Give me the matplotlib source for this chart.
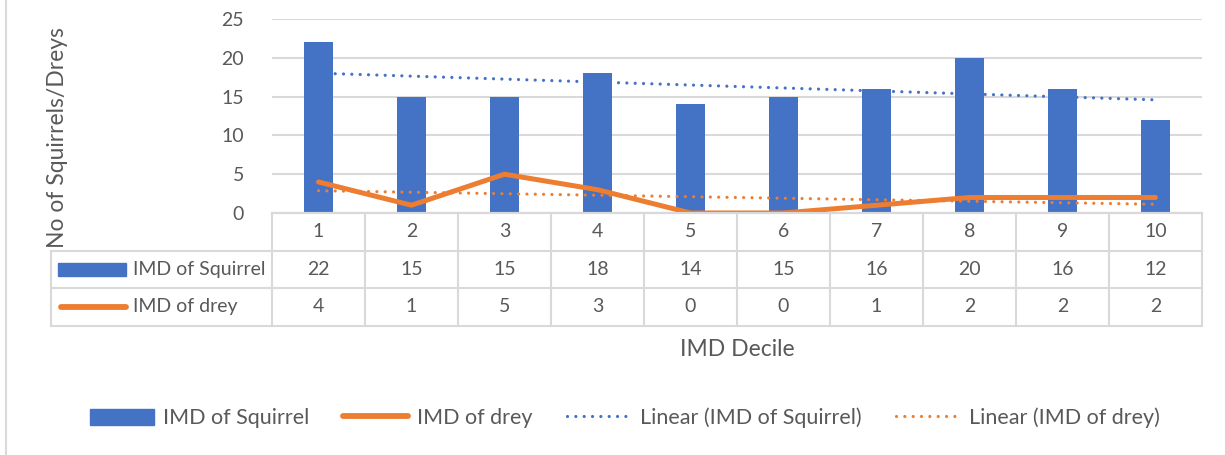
import numpy as np
import matplotlib.pyplot as plt
from matplotlib.lines import Line2D
from matplotlib.patches import Patch

plt.rcParams['font.family'] = ['Lato', 'DejaVu Sans']

# IMD deciles and counts
deciles = [1, 2, 3, 4, 5, 6, 7, 8, 9, 10]
squirrels = [22, 15, 15, 18, 14, 15, 16, 20, 16, 12]
dreys = [4, 1, 5, 3, 0, 0, 1, 2, 2, 2]
series_names = ['IMD of Squirrel', 'IMD of drey']

BLUE = '#4472C4'
ORANGE = '#ED7D31'
GRID = '#D9D9D9'
TXT = '#595959'
FS = 14
DOTS = (0, (0.01, 2.6))

W, H = 1225, 455
fig = plt.figure(figsize=(W / 100, H / 100), dpi=100)

# pixel geometry of plot area and data table
x0, x1 = 272, 1202
y_top, y_zero = 19, 213
row_h = 37.5
tab_left = 51

ax = fig.add_axes([x0 / W, 1 - y_zero / H, (x1 - x0) / W, (y_zero - y_top) / H])
x = np.arange(len(deciles))
ax.bar(x, squirrels, width=0.32, color=BLUE, zorder=2)
ax.plot(x, dreys, color=ORANGE, lw=3.6, solid_capstyle='round', solid_joinstyle='round', zorder=3)

# linear trendlines
for vals, col in [(squirrels, BLUE), (dreys, ORANGE)]:
    k, b = np.polyfit(deciles, vals, 1)
    ax.plot(x, k * np.array(deciles) + b, color=col, lw=2.3, ls=DOTS,
            dash_capstyle='round', zorder=4)

ax.set_xlim(-0.5, len(deciles) - 0.5)
ax.set_ylim(0, 25)
ax.set_yticks(range(0, 26, 5))
ax.yaxis.grid(True, color=GRID, lw=1.5, zorder=0)
ax.set_xticks([])
ax.tick_params(axis='y', length=0, labelsize=FS, labelcolor=TXT, pad=20)
for s in ['top', 'right', 'left']:
    ax.spines[s].set_visible(False)
ax.spines['bottom'].set_color(GRID)
ax.spines['bottom'].set_linewidth(1.5)

# data table below the plot area
tab = fig.add_axes([tab_left / W, 1 - (y_zero + 3 * row_h) / H,
                    (x1 - tab_left) / W, 3 * row_h / H])
col_w = (x1 - x0) / len(deciles)
lab_w = (x0 - tab_left) / col_w
tab.set_xlim(-0.5 - lab_w, len(deciles) - 0.5)
tab.set_ylim(3, 0)
tab.axis('off')
kw = dict(color=GRID, lw=1.5, clip_on=False)
for r in [0, 1, 2, 3]:
    start = -0.5 if r == 0 else -0.5 - lab_w
    tab.plot([start, len(deciles) - 0.5], [r, r], **kw)
for c in range(len(deciles) + 1):
    tab.plot([c - 0.5, c - 0.5], [0, 3], **kw)
tab.plot([-0.5 - lab_w] * 2, [1, 3], **kw)

rows = [deciles, squirrels, dreys]
for r, vals in enumerate(rows):
    for i, v in enumerate(vals):
        tab.text(i, r + 0.5, str(v), ha='center', va='center', fontsize=FS, color=TXT)

# row labels with series keys
kx = -0.5 - lab_w + 0.08
tab.add_patch(plt.Rectangle((kx, 1.32), 0.73, 0.36, color=BLUE, clip_on=False))
tab.plot([kx + 0.03, kx + 0.73], [2.5, 2.5], color=ORANGE, lw=4.2,
         solid_capstyle='round', clip_on=False)
tab.text(kx + 0.8, 1.5, series_names[0], ha='left', va='center', fontsize=FS, color=TXT)
tab.text(kx + 0.8, 2.5, series_names[1], ha='left', va='center', fontsize=FS, color=TXT)

# axis titles
fig.text(57 / W, 1 - 138 / H, 'No of Squirrels/Dreys', rotation=90, ha='center',
         va='center', fontsize=16.5, color=TXT)
fig.text((x0 + x1) / 2 / W, 1 - 350 / H, 'IMD Decile', ha='center', va='center',
         fontsize=16.5, color=TXT)

# legend
handles = [
    Patch(color=BLUE),
    Line2D([], [], color=ORANGE, lw=4.2, solid_capstyle='round'),
    Line2D([], [], color=BLUE, lw=2.3, ls=DOTS, dash_capstyle='round'),
    Line2D([], [], color=ORANGE, lw=2.3, ls=DOTS, dash_capstyle='round'),
]
labels = series_names + ['Linear (IMD of Squirrel)', 'Linear (IMD of drey)']
fig.legend(handles, labels, loc='center', bbox_to_anchor=(0.51, 1 - 418 / H), ncol=4,
           frameon=False, fontsize=15.5, labelcolor=TXT, handlelength=3,
           handleheight=0.8, handletextpad=0.4, columnspacing=1.6)

# chart border on the left edge
fig.add_artist(Line2D([6 / W, 6 / W], [0, 1], color=GRID, lw=1.5))

fig.savefig('out.png', dpi=100)
